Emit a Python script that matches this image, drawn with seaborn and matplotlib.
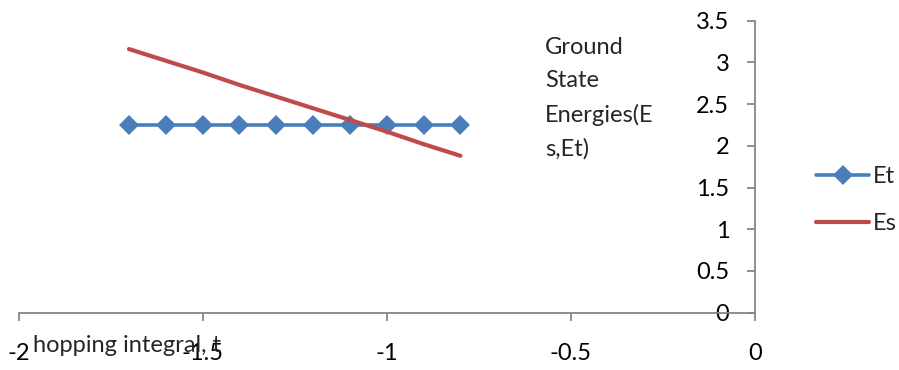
import matplotlib
matplotlib.use("Agg")
import matplotlib.pyplot as plt
import seaborn as sns
import pandas as pd

# data
t_values = [-1.7, -1.6, -1.5, -1.4, -1.3, -1.2, -1.1, -1.0, -0.9, -0.8]
et_values = [2.25, 2.25, 2.25, 2.25, 2.25, 2.25, 2.25, 2.25, 2.25, 2.25]
es_values = [3.16, 3.02, 2.88, 2.73, 2.59, 2.45, 2.31, 2.17, 2.02, 1.88]
x_ticks = [-2, -1.5, -1, -0.5, 0]
x_tick_labels = ["-2", "-1.5", "-1", "-0.5", "0"]
y_ticks = [0, 0.5, 1, 1.5, 2, 2.5, 3, 3.5]
y_tick_labels = ["0", "0.5", "1", "1.5", "2", "2.5", "3", "3.5"]
x_label = "hopping integral, t"
y_label = "Ground\nState\nEnergies(E\ns,Et)"

sns.set_style("white")
plt.rcParams["font.family"] = ["Lato", "DejaVu Sans"]
FS = 17

df = pd.DataFrame({"t": t_values, "Et": et_values, "Es": es_values})

fig = plt.figure(figsize=(8.99, 3.70), dpi=100)
ax = fig.add_axes([18.5 / 899, 1 - 312.6 / 370, (755 - 18.5) / 899, (312.6 - 20.7) / 370])

blue = "#4A7EBB"
red = "#BE4B48"
sns.lineplot(data=df, x="t", y="Et", ax=ax, color=blue, linewidth=2.6,
             marker="D", markersize=10, markeredgewidth=0, label="Et")
sns.lineplot(data=df, x="t", y="Es", ax=ax, color=red, linewidth=3.0, label="Es")

ax.set_xlim(-2, 0)
ax.set_ylim(0, 3.5)
ax.set_xticks(x_ticks)
ax.set_xticklabels(x_tick_labels)
ax.set_yticks(y_ticks)
ax.set_yticklabels(y_tick_labels)
ax.set_xlabel("")
ax.set_ylabel("")

axis_color = "#868686"
for s in ["top", "right"]:
    ax.spines[s].set_visible(False)
ax.spines["left"].set_position(("data", 0))
ax.spines["bottom"].set_position(("data", 0))
for s in ["left", "bottom"]:
    ax.spines[s].set_color(axis_color)
    ax.spines[s].set_linewidth(1.3)
ax.tick_params(axis="x", direction="out", length=6, width=1.3, color=axis_color,
               pad=16, labelcolor="black", bottom=True, labelsize=FS)
ax.tick_params(axis="y", direction="out", length=6, width=1.3, color=axis_color,
               pad=12.5, labelcolor="black", left=True, labelsize=FS)
ax.grid(False)

fig.text(33 / 899, 1 - 346 / 370, x_label, fontsize=FS, ha="left", va="center")
fig.text(545 / 899, 1 - 37 / 370, y_label, fontsize=FS, ha="left", va="top",
         linespacing=1.7)

leg = ax.legend(loc="center left", bbox_to_anchor=(816 / 899, 1 - 200 / 370),
                bbox_transform=fig.transFigure, frameon=False, fontsize=FS,
                handlelength=2.25, handletextpad=0.15, labelspacing=1.1,
                borderaxespad=0, borderpad=0)

fig.savefig("out.png", dpi=100)
